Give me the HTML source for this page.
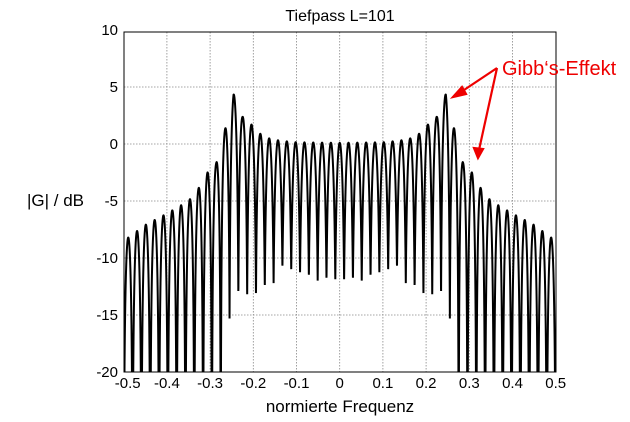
<!DOCTYPE html>
<html><head><meta charset="utf-8"><style>
body{margin:0;background:#fff;}
svg{display:block;font-family:"Liberation Sans",Arial,sans-serif;}
</style></head><body>
<svg id="s" width="630" height="422" viewBox="0 0 630 422" xmlns="http://www.w3.org/2000/svg">
<g id="grid" stroke="#888" stroke-width="0.8" stroke-dasharray="1.5,1.5"></g>
<clipPath id="cp"><rect x="124" y="32" width="432" height="340"/></clipPath>
<path id="curve" clip-path="url(#cp)" fill="none" stroke="#000" stroke-width="2"/>
<rect x="124" y="32" width="432" height="340" fill="none" stroke="#000" stroke-width="1"/>
<g id="lab" font-size="15" fill="#000"></g>
<text x="340" y="21" font-size="16" text-anchor="middle">Tiefpass L=101</text>
<text x="340" y="412" font-size="17" text-anchor="middle">normierte Frequenz</text>
<text x="27" y="206" font-size="17">|G| / dB</text>
<text x="502" y="75" font-size="20" fill="#e00">Gibb‘s-Effekt</text>
<g stroke="#e00" stroke-width="2.2" fill="#e00">
<line x1="497" y1="68" x2="458" y2="94"/><polygon points="453,97 462,87 466,94"/>
<line x1="497" y1="68" x2="479" y2="150"/><polygon points="478,158 474,148 483,149"/>
</g>
</svg>
<script>
var X=function(f){return 339.7+f*432;},Y=function(d){return 144-d*11.4;};
var g=document.getElementById('grid'),l=document.getElementById('lab'),h='';
for(var i=-4;i<=4;i++){var x=X(i/10);h+='<line x1="'+x+'" y1="32" x2="'+x+'" y2="372"/>';}
for(var d=5;d>-20;d-=5){var y=Y(d);h+='<line x1="124" y1="'+y+'" x2="556" y2="'+y+'"/>';}
g.innerHTML=h;h='';
for(var i=-5;i<=5;i++){var t=(i/10).toString();if(i==0)t='0';h+='<text x="'+(X(i/10)+(i==-5?4:0))+'" y="388" text-anchor="middle">'+t+'</text>';}
for(var d=10;d>=-20;d-=5){h+='<text x="118" y="'+(Y(d)+5)+'" text-anchor="end">'+d+'</text>';}
l.innerHTML=h;
function interp(p,a){for(var i=1;i<p.length;i++){if(a<=p[i][0]){var t=(a-p[i-1][0])/(p[i][0]-p[i-1][0]);return p[i-1][1]+t*(p[i][1]-p[i-1][1]);}}return p[p.length-1][1];}
var P=[[0,0.1],[0.1,0.15],[0.14,0.3],[0.164,0.5],[0.184,0.9],[0.204,1.7],[0.225,2.4],[0.2457,4.4],[0.266,1.2],[0.286,-1.7],[0.306,-2.5],[0.327,-3.9],[0.35,-5],[0.4,-6.1],[0.45,-7.1],[0.5,-8.5]];
var T=[[0,-12],[0.05,-12],[0.07,-11.75],[0.09,-11.4],[0.112,-11.1],[0.133,-10.9],[0.153,-12.2],[0.174,-12.7],[0.195,-13.3],[0.215,-13.4],[0.235,-13.4],[0.257,-15.5],[0.268,-40],[0.5,-40]];
var per=0.0204,pts=[];
for(var k=0;k<=6000;k++){var f=-0.5+k/6000;var a=Math.abs(f);
var Ap=Math.pow(10,interp(P,a)/20),At=Math.pow(10,interp(T,a)/20);
var c=Math.abs(Math.cos(Math.PI*f/per));var amp=At+(Ap-At)*c;var db=20*Math.log10(amp);if(db<-21)db=-21;
pts.push(X(f).toFixed(2)+','+Y(db).toFixed(2));}
document.getElementById('curve').setAttribute('d','M'+pts.join('L'));
</script>
</body></html>
